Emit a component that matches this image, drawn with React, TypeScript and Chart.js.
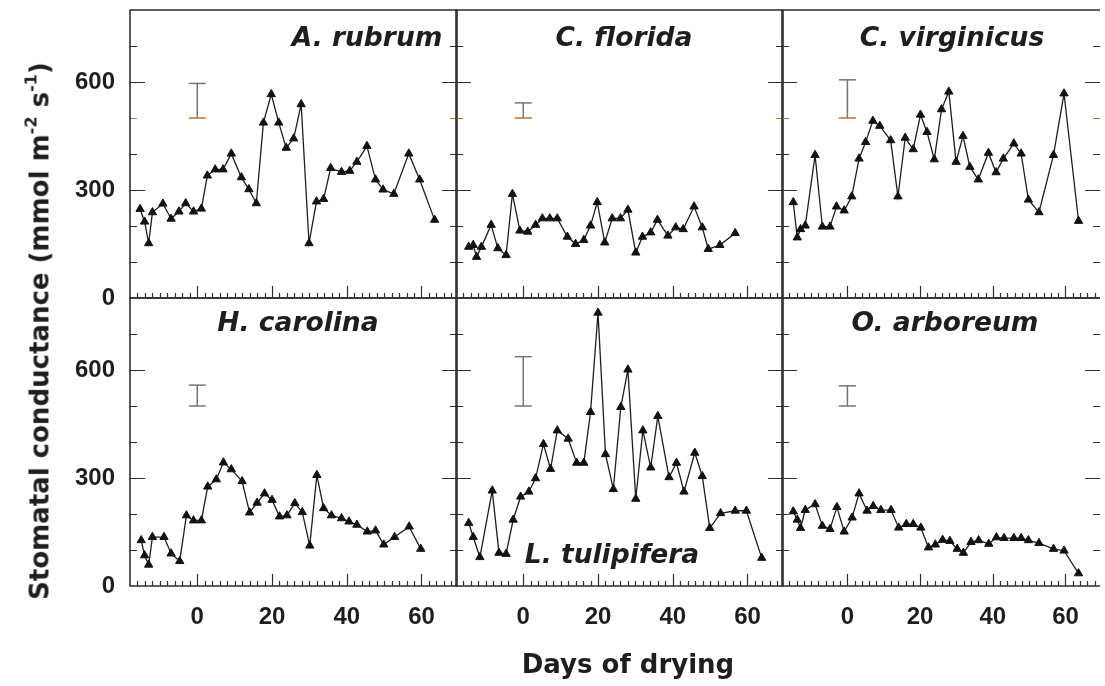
import React, { useEffect, useRef } from 'react';
import { Chart, registerables } from 'chart.js';

Chart.register(...registerables);

// ---------------- data ----------------
const X_MIN = -18;
const X_MAX = 69.5;
const Y_MIN = 0;
const Y_MAX = 800;
const X_TICK_LABELS = [0, 20, 40, 60];
const Y_TICK_LABELS = [0, 300, 600];
const X_MAJOR_TICKS = [0, 20, 40, 60];
const X_MINOR_FIRST = -16;
const X_MINOR_LAST = 68;
const X_MINOR_STEP = 2;
const Y_MINOR_TICKS = [100, 200, 300, 400, 500, 600, 700];
const Y_MAJOR_TICKS = [300, 600];

const AR_DAYS = [-15.3, -14.1, -13, -12, -9.2, -7, -4.9, -3.1, -1, 1.1, 2.7, 4.8, 6.9, 9.1, 11.8, 13.8, 15.8, 17.7, 19.8, 21.8, 23.8, 25.8, 27.8, 29.9, 31.9, 33.8, 35.7, 38.6, 40.8, 42.7, 45.4, 47.7, 49.7, 52.6, 56.6, 59.5, 63.5];
const AR_VALS = [247, 212, 152, 238, 262, 220, 240, 263, 240, 248, 340, 357, 357, 401, 335, 302, 263, 487, 566, 487, 417, 443, 538, 152, 268, 275, 361, 350, 353, 378, 422, 329, 301, 289, 401, 329, 217];
const AR_ERR = [500, 596];

const CF_DAYS = [-14.6, -13.4, -12.5, -11.2, -8.6, -6.8, -4.6, -2.9, -0.9, 1.2, 3.3, 5.1, 7.1, 9.1, 11.8, 14, 16.2, 18, 19.8, 21.8, 23.8, 26, 28, 30.1, 31.9, 34.1, 35.9, 38.7, 40.8, 42.8, 45.7, 47.9, 49.5, 52.6, 56.7];
const CF_VALS = [142, 147, 114, 142, 203, 138, 119, 289, 187, 184, 203, 221, 221, 221, 170, 150, 161, 201, 266, 154, 221, 221, 245, 126, 170, 182, 217, 173, 196, 191, 254, 196, 136, 147, 180];
const CF_ERR = [500, 542];

const CV_DAYS = [-14.9, -13.8, -12.9, -11.6, -8.9, -6.9, -4.8, -3, -0.9, 1.2, 3.2, 5, 7, 8.9, 11.9, 13.9, 15.9, 18.1, 20.1, 21.9, 23.9, 25.9, 27.9, 29.9, 31.8, 33.7, 36, 38.8, 40.9, 42.9, 45.8, 47.8, 49.8, 52.7, 56.7, 59.6, 63.6];
const CV_VALS = [266, 168, 191, 201, 397, 198, 198, 254, 243, 282, 387, 433, 492, 478, 438, 282, 445, 413, 509, 461, 385, 524, 573, 378, 450, 364, 329, 403, 349, 387, 429, 401, 273, 238, 397, 568, 214];
const CV_ERR = [500, 606];

const HC_DAYS = [-15, -14.1, -13, -12, -8.9, -7, -4.7, -2.9, -1, 1.1, 2.8, 5.1, 7, 9.1, 12, 14, 16, 18, 20, 22, 24, 26.1, 28.1, 30.1, 32, 33.8, 35.9, 38.6, 40.6, 42.7, 45.5, 47.7, 49.9, 52.8, 56.7, 59.8];
const HC_VALS = [127, 85, 59, 136, 136, 90, 69, 196, 182, 182, 276, 296, 343, 324, 291, 204, 231, 257, 239, 193, 196, 230, 205, 112, 308, 216, 196, 188, 179, 170, 151, 154, 115, 136, 165, 103];
const HC_ERR = [500, 558];

const LT_DAYS = [-14.6, -13.4, -11.6, -8.3, -6.5, -4.6, -2.7, -0.7, 1.5, 3.3, 5.4, 7.3, 9.1, 12, 14.3, 16.2, 18, 20, 22, 24.1, 26.1, 28, 30.1, 32, 34.1, 36, 39, 41, 43, 45.9, 47.9, 49.9, 52.8, 56.7, 59.7, 63.8];
const LT_VALS = [175, 136, 80, 265, 92, 89, 184, 248, 262, 299, 394, 325, 432, 409, 342, 342, 483, 759, 366, 269, 497, 601, 242, 432, 329, 472, 302, 342, 262, 370, 305, 161, 202, 209, 209, 78];
const LT_ERR = [500, 637];

const OA_DAYS = [-14.9, -13.8, -12.9, -11.6, -8.9, -6.9, -4.8, -2.9, -0.9, 1.3, 3.2, 5.4, 7.1, 9.2, 12, 14.1, 16.2, 18.1, 20.2, 22.3, 24.2, 26.2, 28.2, 30.2, 31.9, 34, 36.1, 38.9, 41, 43.1, 45.8, 47.8, 49.8, 52.7, 56.7, 59.6, 63.6];
const OA_VALS = [207, 184, 161, 211, 227, 167, 158, 219, 151, 190, 257, 209, 222, 211, 211, 162, 172, 172, 162, 107, 115, 128, 125, 103, 92, 122, 127, 117, 135, 133, 133, 133, 127, 119, 103, 98, 35];
const OA_ERR = [500, 556];

const SPECIES = ['A. rubrum', 'C. florida', 'C. virginicus', 'H. carolina', 'L. tulipifera', 'O. arboreum'];
const Y_TITLE = 'Stomatal conductance (mmol m';
const X_TITLE = 'Days of drying';

// ---------------- layout ----------------
const CANVAS_W = 1110;
const CANVAS_H = 686;
const PANEL_LEFT = [130, 456, 782];
const PANEL_TOP = [10, 298];
const PANEL_W = 327;
const PANEL_H = 288;
const Y_AXIS_W = 100;
const X_AXIS_H = 60;
// label placement: [centerX, baselineY]
const LABEL_POS = [[367, 46], [624, 46], [952, 46], [298, 331], [612, 563], [945, 331]];

const INK = '#1e1e1e';
const FRAME = '#2e2e2e';
const ERR_COLOR = '#747474';
const ACCENT = '#b8712e';
const NUM_FONT = '"Liberation Sans", Arial, Helvetica, sans-serif';
const TXT_FONT = '"DejaVu Sans", Verdana, sans-serif';

const PANELS = [
  { name: SPECIES[0], days: AR_DAYS, vals: AR_VALS, err: AR_ERR, col: 0, row: 0 },
  { name: SPECIES[1], days: CF_DAYS, vals: CF_VALS, err: CF_ERR, col: 1, row: 0 },
  { name: SPECIES[2], days: CV_DAYS, vals: CV_VALS, err: CV_ERR, col: 2, row: 0 },
  { name: SPECIES[3], days: HC_DAYS, vals: HC_VALS, err: HC_ERR, col: 0, row: 1 },
  { name: SPECIES[4], days: LT_DAYS, vals: LT_VALS, err: LT_ERR, col: 1, row: 1 },
  { name: SPECIES[5], days: OA_DAYS, vals: OA_VALS, err: OA_ERR, col: 2, row: 1 },
];

const frameTicks = {
  id: 'frameTicks',
  afterDatasetsDraw(chart: any, _args: any, opts: any) {
    const { ctx, chartArea: a, scales } = chart;
    const xs = scales.x;
    const ys = scales.y;
    ctx.save();
    ctx.lineCap = 'butt';
    ctx.strokeStyle = FRAME;
    ctx.lineWidth = 1.2;
    for (let v = X_MINOR_FIRST; v <= X_MINOR_LAST; v += X_MINOR_STEP) {
      const px = Math.round(xs.getPixelForValue(v)) + 0.5;
      const len = X_MAJOR_TICKS.includes(v) ? 12 : 5;
      ctx.beginPath();
      ctx.moveTo(px, a.bottom);
      ctx.lineTo(px, a.bottom - len);
      ctx.stroke();
    }
    for (const v of Y_MINOR_TICKS) {
      const py = Math.round(ys.getPixelForValue(v)) + 0.5;
      const len = Y_MAJOR_TICKS.includes(v) ? 15 : 7;
      ctx.strokeStyle = opts.accent && v === 500 ? ACCENT : FRAME;
      ctx.beginPath();
      ctx.moveTo(a.left, py);
      ctx.lineTo(a.left + len, py);
      ctx.moveTo(a.right - len, py);
      ctx.lineTo(a.right, py);
      ctx.stroke();
    }
    ctx.strokeStyle = FRAME;
    ctx.lineWidth = 1.6;
    ctx.beginPath();
    ctx.moveTo(a.right, a.top);
    ctx.lineTo(a.left, a.top);
    ctx.lineTo(a.left, a.bottom);
    ctx.lineTo(a.right, a.bottom);
    if (!opts.openRight) {
      ctx.lineTo(a.right, a.top);
    }
    ctx.stroke();
    ctx.restore();
  },
};

function zeroPadding(s: any) {
  s.paddingTop = 0;
  s.paddingBottom = 0;
  s.paddingLeft = 0;
  s.paddingRight = 0;
}

function Panel({ p }: { p: any }) {
  const ref = useRef<HTMLCanvasElement>(null);
  useEffect(() => {
    const left = PANEL_LEFT[p.col];
    const top = PANEL_TOP[p.row];
    const showY = p.col === 0;
    const showX = p.row === 1;
    const padding = {
      left: showY ? left - Y_AXIS_W : left,
      top,
      right: CANVAS_W - left - PANEL_W,
      bottom: showX ? CANVAS_H - top - PANEL_H - X_AXIS_H : CANVAS_H - top - PANEL_H,
    };
    const accent = p.row === 0;
    const chart = new Chart(ref.current as HTMLCanvasElement, {
      type: 'line',
      data: {
        datasets: [
          {
            data: p.days.map((d: number, i: number) => ({ x: d, y: p.vals[i] })),
            borderColor: INK,
            borderWidth: 1.3,
            pointStyle: 'triangle',
            pointRadius: 4.8,
            pointBackgroundColor: '#121212',
            pointBorderColor: '#121212',
            pointBorderWidth: 1,
            tension: 0,
            fill: false,
          },
          {
            data: [
              { x: 0, y: p.err[0] },
              { x: 0, y: p.err[1] },
            ],
            borderColor: ERR_COLOR,
            borderWidth: 1.5,
            pointStyle: 'line',
            pointRadius: 8.5,
            pointBorderWidth: 1.5,
            pointBorderColor: [accent ? ACCENT : ERR_COLOR, ERR_COLOR],
            fill: false,
          },
        ],
      } as any,
      options: {
        responsive: false,
        animation: false,
        events: [],
        layout: { padding },
        plugins: {
          legend: { display: false },
          tooltip: { enabled: false },
          frameTicks: { accent, openRight: p.col === 2 },
        } as any,
        scales: {
          x: {
            type: 'linear',
            min: X_MIN,
            max: X_MAX,
            display: showX,
            afterFit: (s: any) => {
              s.height = showX ? X_AXIS_H : 0;
              zeroPadding(s);
            },
            afterBuildTicks: (s: any) => {
              s.ticks = X_TICK_LABELS.map((v) => ({ value: v }));
            },
            grid: { display: false, drawTicks: false },
            border: { display: false },
            ticks: {
              color: INK,
              padding: 17,
              maxRotation: 0,
              autoSkip: false,
              font: { family: NUM_FONT, size: 24, weight: 'bold' },
            },
          },
          y: {
            type: 'linear',
            min: Y_MIN,
            max: Y_MAX,
            display: showY,
            afterFit: (s: any) => {
              s.width = showY ? Y_AXIS_W : 0;
              zeroPadding(s);
            },
            afterBuildTicks: (s: any) => {
              s.ticks = Y_TICK_LABELS.map((v) => ({ value: v }));
            },
            grid: { display: false, drawTicks: false },
            border: { display: false },
            ticks: {
              color: INK,
              padding: 15,
              autoSkip: false,
              font: { family: NUM_FONT, size: 24, weight: 'bold' },
            },
          },
        },
      } as any,
      plugins: [frameTicks as any],
    });
    return () => chart.destroy();
  }, [p]);
  return (
    <canvas
      ref={ref}
      width={CANVAS_W}
      height={CANVAS_H}
      style={{ position: 'absolute', left: 0, top: 0, width: CANVAS_W, height: CANVAS_H }}
    />
  );
}

const SPECIES_SIZE = 26.5;
const TITLE_SIZE = 26;

export default function App() {
  return (
    <div
      style={{
        position: 'fixed',
        left: 0,
        top: 0,
        width: 1105,
        height: 686,
        overflow: 'hidden',
        background: '#ffffff',
        color: INK,
      }}
    >
      {PANELS.map((p, i) => (
        <Panel key={i} p={p} />
      ))}
      {PANELS.map((p, i) => (
        <div
          key={'lab' + i}
          style={{
            position: 'absolute',
            left: LABEL_POS[i][0],
            top: LABEL_POS[i][1] - 0.846 * SPECIES_SIZE,
            transform: 'translateX(-50%)',
            whiteSpace: 'nowrap',
            fontFamily: TXT_FONT,
            fontWeight: 'bold',
            fontStyle: 'italic',
            fontSize: SPECIES_SIZE,
            lineHeight: 1,
          }}
        >
          {p.name}
        </div>
      ))}
      <div
        style={{
          position: 'absolute',
          left: 38,
          top: 331,
          transform: 'translate(-50%, -50%) rotate(-90deg)',
          whiteSpace: 'nowrap',
          fontFamily: TXT_FONT,
          fontWeight: 'bold',
          fontSize: TITLE_SIZE,
          lineHeight: 1,
        }}
      >
        {Y_TITLE}
        <span style={{ fontSize: '0.62em', verticalAlign: '0.75em' }}>-2</span> s
        <span style={{ fontSize: '0.62em', verticalAlign: '0.75em' }}>-1</span>)
      </div>
      <div
        style={{
          position: 'absolute',
          left: 628,
          top: 664,
          transform: 'translate(-50%, -50%)',
          whiteSpace: 'nowrap',
          fontFamily: TXT_FONT,
          fontWeight: 'bold',
          fontSize: TITLE_SIZE,
          lineHeight: 1,
        }}
      >
        {X_TITLE}
      </div>
    </div>
  );
}
